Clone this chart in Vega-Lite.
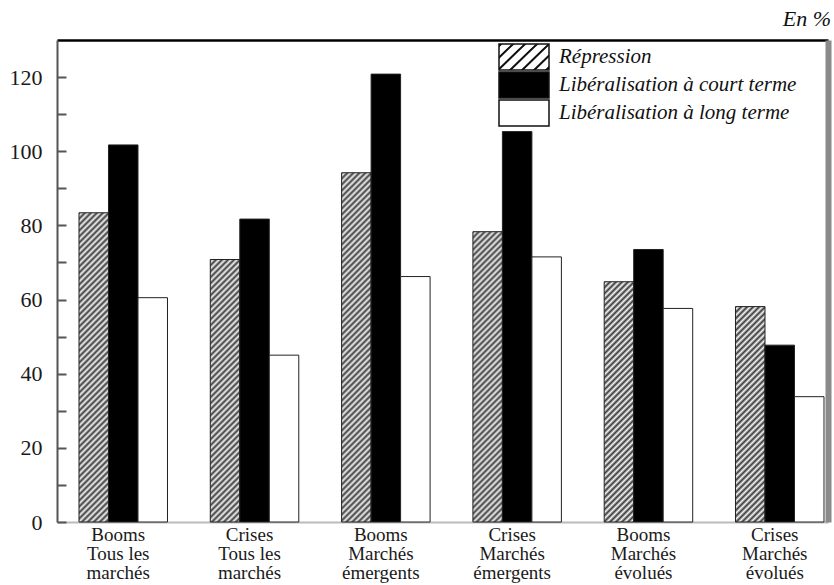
{
 "$schema": "https://vega.github.io/schema/vega-lite/v6.json",
 "width": 771, "height": 482,
 "autosize": {"type": "none"},
 "padding": {"left": 57, "top": 40, "right": 6, "bottom": 63},
 "background": "white",
 "config": {"font": "Liberation Serif, Times New Roman, serif", "view": {"stroke": null}},
 "title": {"text": "En %", "anchor": "end", "orient": "top", "fontStyle": "italic", "fontWeight": "normal", "fontSize": 22, "font": "Liberation Serif, Times New Roman, serif", "color": "#111", "offset": 9, "dx": 3},
 "params": [
  {"name": "barHatch", "value": [
   {"offset":0,"color":"#3c3c3c"},{"offset":0.0078125,"color":"#f2f2f2"},
   {"offset":0.015625,"color":"#3c3c3c"},{"offset":0.0234375,"color":"#f2f2f2"},
   {"offset":0.03125,"color":"#3c3c3c"},{"offset":0.0390625,"color":"#f2f2f2"},
   {"offset":0.046875,"color":"#3c3c3c"},{"offset":0.0546875,"color":"#f2f2f2"},
   {"offset":0.0625,"color":"#3c3c3c"},{"offset":0.0703125,"color":"#f2f2f2"},
   {"offset":0.078125,"color":"#3c3c3c"},{"offset":0.0859375,"color":"#f2f2f2"},
   {"offset":0.09375,"color":"#3c3c3c"},{"offset":0.1015625,"color":"#f2f2f2"},
   {"offset":0.109375,"color":"#3c3c3c"},{"offset":0.1171875,"color":"#f2f2f2"},
   {"offset":0.125,"color":"#3c3c3c"},{"offset":0.1328125,"color":"#f2f2f2"},
   {"offset":0.140625,"color":"#3c3c3c"},{"offset":0.1484375,"color":"#f2f2f2"},
   {"offset":0.15625,"color":"#3c3c3c"},{"offset":0.1640625,"color":"#f2f2f2"},
   {"offset":0.171875,"color":"#3c3c3c"},{"offset":0.1796875,"color":"#f2f2f2"},
   {"offset":0.1875,"color":"#3c3c3c"},{"offset":0.1953125,"color":"#f2f2f2"},
   {"offset":0.203125,"color":"#3c3c3c"},{"offset":0.2109375,"color":"#f2f2f2"},
   {"offset":0.21875,"color":"#3c3c3c"},{"offset":0.2265625,"color":"#f2f2f2"},
   {"offset":0.234375,"color":"#3c3c3c"},{"offset":0.2421875,"color":"#f2f2f2"},
   {"offset":0.25,"color":"#3c3c3c"},{"offset":0.2578125,"color":"#f2f2f2"},
   {"offset":0.265625,"color":"#3c3c3c"},{"offset":0.2734375,"color":"#f2f2f2"},
   {"offset":0.28125,"color":"#3c3c3c"},{"offset":0.2890625,"color":"#f2f2f2"},
   {"offset":0.296875,"color":"#3c3c3c"},{"offset":0.3046875,"color":"#f2f2f2"},
   {"offset":0.3125,"color":"#3c3c3c"},{"offset":0.3203125,"color":"#f2f2f2"},
   {"offset":0.328125,"color":"#3c3c3c"},{"offset":0.3359375,"color":"#f2f2f2"},
   {"offset":0.34375,"color":"#3c3c3c"},{"offset":0.3515625,"color":"#f2f2f2"},
   {"offset":0.359375,"color":"#3c3c3c"},{"offset":0.3671875,"color":"#f2f2f2"},
   {"offset":0.375,"color":"#3c3c3c"},{"offset":0.3828125,"color":"#f2f2f2"},
   {"offset":0.390625,"color":"#3c3c3c"},{"offset":0.3984375,"color":"#f2f2f2"},
   {"offset":0.40625,"color":"#3c3c3c"},{"offset":0.4140625,"color":"#f2f2f2"},
   {"offset":0.421875,"color":"#3c3c3c"},{"offset":0.4296875,"color":"#f2f2f2"},
   {"offset":0.4375,"color":"#3c3c3c"},{"offset":0.4453125,"color":"#f2f2f2"},
   {"offset":0.453125,"color":"#3c3c3c"},{"offset":0.4609375,"color":"#f2f2f2"},
   {"offset":0.46875,"color":"#3c3c3c"},{"offset":0.4765625,"color":"#f2f2f2"},
   {"offset":0.484375,"color":"#3c3c3c"},{"offset":0.4921875,"color":"#f2f2f2"},
   {"offset":0.5,"color":"#3c3c3c"},{"offset":0.5078125,"color":"#f2f2f2"},
   {"offset":0.515625,"color":"#3c3c3c"},{"offset":0.5234375,"color":"#f2f2f2"},
   {"offset":0.53125,"color":"#3c3c3c"},{"offset":0.5390625,"color":"#f2f2f2"},
   {"offset":0.546875,"color":"#3c3c3c"},{"offset":0.5546875,"color":"#f2f2f2"},
   {"offset":0.5625,"color":"#3c3c3c"},{"offset":0.5703125,"color":"#f2f2f2"},
   {"offset":0.578125,"color":"#3c3c3c"},{"offset":0.5859375,"color":"#f2f2f2"},
   {"offset":0.59375,"color":"#3c3c3c"},{"offset":0.6015625,"color":"#f2f2f2"},
   {"offset":0.609375,"color":"#3c3c3c"},{"offset":0.6171875,"color":"#f2f2f2"},
   {"offset":0.625,"color":"#3c3c3c"},{"offset":0.6328125,"color":"#f2f2f2"},
   {"offset":0.640625,"color":"#3c3c3c"},{"offset":0.6484375,"color":"#f2f2f2"},
   {"offset":0.65625,"color":"#3c3c3c"},{"offset":0.6640625,"color":"#f2f2f2"},
   {"offset":0.671875,"color":"#3c3c3c"},{"offset":0.6796875,"color":"#f2f2f2"},
   {"offset":0.6875,"color":"#3c3c3c"},{"offset":0.6953125,"color":"#f2f2f2"},
   {"offset":0.703125,"color":"#3c3c3c"},{"offset":0.7109375,"color":"#f2f2f2"},
   {"offset":0.71875,"color":"#3c3c3c"},{"offset":0.7265625,"color":"#f2f2f2"},
   {"offset":0.734375,"color":"#3c3c3c"},{"offset":0.7421875,"color":"#f2f2f2"},
   {"offset":0.75,"color":"#3c3c3c"},{"offset":0.7578125,"color":"#f2f2f2"},
   {"offset":0.765625,"color":"#3c3c3c"},{"offset":0.7734375,"color":"#f2f2f2"},
   {"offset":0.78125,"color":"#3c3c3c"},{"offset":0.7890625,"color":"#f2f2f2"},
   {"offset":0.796875,"color":"#3c3c3c"},{"offset":0.8046875,"color":"#f2f2f2"},
   {"offset":0.8125,"color":"#3c3c3c"},{"offset":0.8203125,"color":"#f2f2f2"},
   {"offset":0.828125,"color":"#3c3c3c"},{"offset":0.8359375,"color":"#f2f2f2"},
   {"offset":0.84375,"color":"#3c3c3c"},{"offset":0.8515625,"color":"#f2f2f2"},
   {"offset":0.859375,"color":"#3c3c3c"},{"offset":0.8671875,"color":"#f2f2f2"},
   {"offset":0.875,"color":"#3c3c3c"},{"offset":0.8828125,"color":"#f2f2f2"},
   {"offset":0.890625,"color":"#3c3c3c"},{"offset":0.8984375,"color":"#f2f2f2"},
   {"offset":0.90625,"color":"#3c3c3c"},{"offset":0.9140625,"color":"#f2f2f2"},
   {"offset":0.921875,"color":"#3c3c3c"},{"offset":0.9296875,"color":"#f2f2f2"},
   {"offset":0.9375,"color":"#3c3c3c"},{"offset":0.9453125,"color":"#f2f2f2"},
   {"offset":0.953125,"color":"#3c3c3c"},{"offset":0.9609375,"color":"#f2f2f2"},
   {"offset":0.96875,"color":"#3c3c3c"},{"offset":0.9765625,"color":"#f2f2f2"},
   {"offset":0.984375,"color":"#3c3c3c"},{"offset":0.9921875,"color":"#f2f2f2"},
   {"offset":1,"color":"#3c3c3c"}
  ]},
  {"name": "legendHatch", "value": {"gradient": "linear", "x1": 0, "y1": 0, "x2": 1.3007, "y2": 0.7024, "stops": [
   {"offset":0,"color":"#ffffff"},{"offset":0.015,"color":"#111111"},{"offset":0.035,"color":"#111111"},{"offset":0.05,"color":"#ffffff"},
   {"offset":0.1429,"color":"#ffffff"},{"offset":0.1579,"color":"#111111"},{"offset":0.1779,"color":"#111111"},{"offset":0.1929,"color":"#ffffff"},
   {"offset":0.2857,"color":"#ffffff"},{"offset":0.3007,"color":"#111111"},{"offset":0.3207,"color":"#111111"},{"offset":0.3357,"color":"#ffffff"},
   {"offset":0.4286,"color":"#ffffff"},{"offset":0.4436,"color":"#111111"},{"offset":0.4636,"color":"#111111"},{"offset":0.4786,"color":"#ffffff"},
   {"offset":0.5714,"color":"#ffffff"},{"offset":0.5864,"color":"#111111"},{"offset":0.6064,"color":"#111111"},{"offset":0.6214,"color":"#ffffff"},
   {"offset":0.7143,"color":"#ffffff"},{"offset":0.7293,"color":"#111111"},{"offset":0.7493,"color":"#111111"},{"offset":0.7643,"color":"#ffffff"},
   {"offset":0.8571,"color":"#ffffff"},{"offset":0.8721,"color":"#111111"},{"offset":0.8921,"color":"#111111"},{"offset":0.9071,"color":"#ffffff"},
   {"offset":1,"color":"#ffffff"}
  ]}}
 ],
 "data": {"values": [
  {"group": "Booms\nTous les\nmarchés", "series": "Répression", "value": 83.4},
  {"group": "Booms\nTous les\nmarchés", "series": "Libéralisation à court terme", "value": 101.7},
  {"group": "Booms\nTous les\nmarchés", "series": "Libéralisation à long terme", "value": 60.5},
  {"group": "Crises\nTous les\nmarchés", "series": "Répression", "value": 70.8},
  {"group": "Crises\nTous les\nmarchés", "series": "Libéralisation à court terme", "value": 81.7},
  {"group": "Crises\nTous les\nmarchés", "series": "Libéralisation à long terme", "value": 45.0},
  {"group": "Booms\nMarchés\némergents", "series": "Répression", "value": 94.2},
  {"group": "Booms\nMarchés\némergents", "series": "Libéralisation à court terme", "value": 120.8},
  {"group": "Booms\nMarchés\némergents", "series": "Libéralisation à long terme", "value": 66.2},
  {"group": "Crises\nMarchés\némergents", "series": "Répression", "value": 78.3},
  {"group": "Crises\nMarchés\némergents", "series": "Libéralisation à court terme", "value": 105.3},
  {"group": "Crises\nMarchés\némergents", "series": "Libéralisation à long terme", "value": 71.5},
  {"group": "Booms\nMarchés\névolués", "series": "Répression", "value": 64.8},
  {"group": "Booms\nMarchés\névolués", "series": "Libéralisation à court terme", "value": 73.5},
  {"group": "Booms\nMarchés\névolués", "series": "Libéralisation à long terme", "value": 57.6},
  {"group": "Crises\nMarchés\névolués", "series": "Répression", "value": 58.1},
  {"group": "Crises\nMarchés\névolués", "series": "Libéralisation à court terme", "value": 47.7},
  {"group": "Crises\nMarchés\névolués", "series": "Libéralisation à long terme", "value": 33.8}
 ]},
 "layer": [
  {
   "mark": {"type": "bar", "stroke": "#222", "strokeWidth": 1},
   "encoding": {
    "x": {"field": "group", "type": "nominal", "sort": null,
     "scale": {"paddingInner": 0.326, "paddingOuter": 0.099, "align": 0.846},
     "axis": {"title": null, "ticks": false, "domainColor": "#bbbbbb", "domainWidth": 2, "labelFont": "Liberation Serif, Times New Roman, serif", "labelFontSize": 19, "labelColor": "#1a1a1a", "labelLineHeight": 19, "labelPadding": 3, "labelOffset": -5, "labelAngle": 0, "labelBaseline": "top", "labelExpr": "split(datum.label, '\\n')"}},
    "xOffset": {"field": "series", "type": "nominal", "sort": null,
     "scale": {"domain": ["Répression", "Libéralisation à court terme", "Libéralisation à long terme"], "paddingInner": 0, "paddingOuter": 0}},
    "y": {"field": "value", "type": "quantitative",
     "scale": {"domain": [0, 130], "nice": false},
     "axis": {"title": null, "values": [0, 10, 20, 30, 40, 50, 60, 70, 80, 90, 100, 110, 120], "labelExpr": "datum.value % 20 === 0 ? datum.label : ''", "tickSize": -9, "tickColor": "#555555", "tickWidth": 2, "domainColor": "#555555", "domainWidth": 2, "labelFont": "Liberation Serif, Times New Roman, serif", "labelFontSize": 22, "labelColor": "#1a1a1a", "labelPadding": 24, "grid": false}},
    "fill": {
     "condition": {"test": "datum.series === 'Répression'", "value": {"expr": "{gradient: 'linear', x1: 0, y1: 0, x2: 384*29.5/(870.25 + pow(datum.value*3.7077, 2)), y2: 384*datum.value*3.7077/(870.25 + pow(datum.value*3.7077, 2)), stops: barHatch}"}},
     "field": "series", "type": "nominal",
     "scale": {"domain": ["Répression", "Libéralisation à court terme", "Libéralisation à long terme"], "range": [{"expr": "legendHatch"}, "#000000", "#ffffff"]},
     "legend": {"title": null, "orient": "none", "legendX": 441, "legendY": 3, "symbolType": "M-1,-0.52H1V0.52H-1Z", "symbolSize": 2500, "clipHeight": 28, "rowPadding": 0, "padding": 0, "labelFont": "Liberation Serif, Times New Roman, serif", "labelFontStyle": "italic", "labelFontSize": 21, "labelColor": "#111111", "labelOffset": 9, "labelLimit": 400, "symbolStrokeColor": "#111111", "symbolStrokeWidth": 1.5}
    }
   }
  },
  {
   "mark": {"type": "tick", "opacity": 0},
   "encoding": {
    "x": {"field": "group", "type": "nominal", "sort": null, "axis": {"orient": "top", "labels": false, "ticks": false, "title": null, "domainColor": "#000000", "domainWidth": 2.5}},
    "y": {"field": "value", "type": "quantitative", "axis": {"orient": "right", "labels": false, "ticks": false, "grid": false, "title": null, "domainColor": "#8a8a8a", "domainWidth": 6}}
   }
  }
 ],
 "resolve": {"axis": {"x": "independent", "y": "independent"}}
}
